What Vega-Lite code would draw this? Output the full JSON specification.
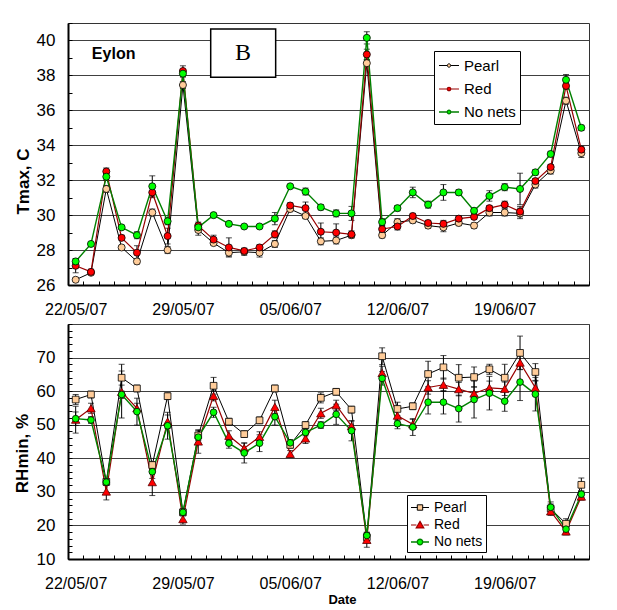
{
  "$schema": "https://vega.github.io/schema/vega-lite/v6.json",
  "autosize": {"type": "pad"},
  "padding": {"left": 12, "top": 22, "right": 0, "bottom": 0},
  "background": "white",
  "bounds": "flush",
  "spacing": 39,
  "config": {
    "font": "Liberation Sans",
    "view": {"stroke": "#333333", "strokeWidth": 1},
    "axis": {"labelColor": "black", "titleColor": "black", "domainColor": "black", "domainWidth": 2, "tickColor": "black", "tickWidth": 1, "gridColor": "#404040", "gridWidth": 1, "labelFont": "Liberation Sans", "titleFont": "Liberation Sans"},
    "legend": {"labelFont": "Liberation Sans", "labelColor": "black", "strokeColor": "black", "fillColor": "white", "cornerRadius": 0}
  },
  "datasets": {
    "tmax": [
      {"d":"2007-05-22","s":"Pearl","v":26.3,"e":0.1},{"d":"2007-05-22","s":"Red","v":27.1,"e":0.4},{"d":"2007-05-22","s":"No nets","v":27.35,"e":0.15},
      {"d":"2007-05-23","s":"Pearl","v":26.7,"e":0.1},{"d":"2007-05-23","s":"Red","v":26.75,"e":0.15},{"d":"2007-05-23","s":"No nets","v":28.35,"e":0.1},
      {"d":"2007-05-24","s":"Pearl","v":31.5,"e":0.2},{"d":"2007-05-24","s":"Red","v":32.5,"e":0.2},{"d":"2007-05-24","s":"No nets","v":32.2,"e":0.2},
      {"d":"2007-05-25","s":"Pearl","v":28.15,"e":0.1},{"d":"2007-05-25","s":"Red","v":28.7,"e":0.15},{"d":"2007-05-25","s":"No nets","v":29.3,"e":0.1},
      {"d":"2007-05-26","s":"Pearl","v":27.35,"e":0.15},{"d":"2007-05-26","s":"Red","v":27.85,"e":0.4},{"d":"2007-05-26","s":"No nets","v":28.85,"e":0.2},
      {"d":"2007-05-27","s":"Pearl","v":30.15,"e":0.2},{"d":"2007-05-27","s":"Red","v":31.3,"e":0.3},{"d":"2007-05-27","s":"No nets","v":31.65,"e":0.6},
      {"d":"2007-05-28","s":"Pearl","v":28.0,"e":0.2},{"d":"2007-05-28","s":"Red","v":28.8,"e":0.45},{"d":"2007-05-28","s":"No nets","v":29.65,"e":0.2},
      {"d":"2007-05-29","s":"Pearl","v":37.45,"e":0.2},{"d":"2007-05-29","s":"Red","v":38.25,"e":0.3},{"d":"2007-05-29","s":"No nets","v":38.1,"e":0.2},
      {"d":"2007-05-30","s":"Pearl","v":29.15,"e":0.3},{"d":"2007-05-30","s":"Red","v":29.4,"e":0.2},{"d":"2007-05-30","s":"No nets","v":29.3,"e":0.15},
      {"d":"2007-05-31","s":"Pearl","v":28.4,"e":0.1},{"d":"2007-05-31","s":"Red","v":28.6,"e":0.25},{"d":"2007-05-31","s":"No nets","v":30.0,"e":0.1},
      {"d":"2007-06-01","s":"Pearl","v":27.85,"e":0.2},{"d":"2007-06-01","s":"Red","v":28.15,"e":0.55},{"d":"2007-06-01","s":"No nets","v":29.5,"e":0.1},
      {"d":"2007-06-02","s":"Pearl","v":27.9,"e":0.2},{"d":"2007-06-02","s":"Red","v":27.95,"e":0.15},{"d":"2007-06-02","s":"No nets","v":29.35,"e":0.1},
      {"d":"2007-06-03","s":"Pearl","v":27.85,"e":0.25},{"d":"2007-06-03","s":"Red","v":28.15,"e":0.15},{"d":"2007-06-03","s":"No nets","v":29.35,"e":0.1},
      {"d":"2007-06-04","s":"Pearl","v":28.35,"e":0.2},{"d":"2007-06-04","s":"Red","v":28.9,"e":0.2},{"d":"2007-06-04","s":"No nets","v":29.8,"e":0.35},
      {"d":"2007-06-05","s":"Pearl","v":30.35,"e":0.15},{"d":"2007-06-05","s":"Red","v":30.55,"e":0.15},{"d":"2007-06-05","s":"No nets","v":31.65,"e":0.1},
      {"d":"2007-06-06","s":"Pearl","v":29.95,"e":0.15},{"d":"2007-06-06","s":"Red","v":30.4,"e":0.35},{"d":"2007-06-06","s":"No nets","v":31.35,"e":0.2},
      {"d":"2007-06-07","s":"Pearl","v":28.5,"e":0.2},{"d":"2007-06-07","s":"Red","v":29.05,"e":0.5},{"d":"2007-06-07","s":"No nets","v":30.45,"e":0.15},
      {"d":"2007-06-08","s":"Pearl","v":28.55,"e":0.2},{"d":"2007-06-08","s":"Red","v":29.0,"e":0.5},{"d":"2007-06-08","s":"No nets","v":30.1,"e":0.2},
      {"d":"2007-06-09","s":"Pearl","v":28.85,"e":0.15},{"d":"2007-06-09","s":"Red","v":28.9,"e":0.2},{"d":"2007-06-09","s":"No nets","v":30.1,"e":0.4},
      {"d":"2007-06-10","s":"Pearl","v":38.7,"e":0.2},{"d":"2007-06-10","s":"Red","v":39.2,"e":0.3},{"d":"2007-06-10","s":"No nets","v":40.15,"e":0.35},
      {"d":"2007-06-11","s":"Pearl","v":28.85,"e":0.15},{"d":"2007-06-11","s":"Red","v":29.2,"e":0.2},{"d":"2007-06-11","s":"No nets","v":29.6,"e":0.2},
      {"d":"2007-06-12","s":"Pearl","v":29.6,"e":0.2},{"d":"2007-06-12","s":"Red","v":29.35,"e":0.2},{"d":"2007-06-12","s":"No nets","v":30.4,"e":0.15},
      {"d":"2007-06-13","s":"Pearl","v":29.7,"e":0.15},{"d":"2007-06-13","s":"Red","v":29.95,"e":0.15},{"d":"2007-06-13","s":"No nets","v":31.3,"e":0.3},
      {"d":"2007-06-14","s":"Pearl","v":29.4,"e":0.15},{"d":"2007-06-14","s":"Red","v":29.55,"e":0.15},{"d":"2007-06-14","s":"No nets","v":30.6,"e":0.2},
      {"d":"2007-06-15","s":"Pearl","v":29.3,"e":0.25},{"d":"2007-06-15","s":"Red","v":29.5,"e":0.2},{"d":"2007-06-15","s":"No nets","v":31.3,"e":0.45},
      {"d":"2007-06-16","s":"Pearl","v":29.55,"e":0.15},{"d":"2007-06-16","s":"Red","v":29.8,"e":0.15},{"d":"2007-06-16","s":"No nets","v":31.3,"e":0.15},
      {"d":"2007-06-17","s":"Pearl","v":29.4,"e":0.15},{"d":"2007-06-17","s":"Red","v":29.9,"e":0.15},{"d":"2007-06-17","s":"No nets","v":30.25,"e":0.15},
      {"d":"2007-06-18","s":"Pearl","v":30.15,"e":0.2},{"d":"2007-06-18","s":"Red","v":30.4,"e":0.15},{"d":"2007-06-18","s":"No nets","v":31.1,"e":0.3},
      {"d":"2007-06-19","s":"Pearl","v":30.15,"e":0.2},{"d":"2007-06-19","s":"Red","v":30.6,"e":0.2},{"d":"2007-06-19","s":"No nets","v":31.6,"e":0.2},
      {"d":"2007-06-20","s":"Pearl","v":30.1,"e":0.3},{"d":"2007-06-20","s":"Red","v":30.2,"e":0.3},{"d":"2007-06-20","s":"No nets","v":31.5,"e":0.9},
      {"d":"2007-06-21","s":"Pearl","v":31.75,"e":0.2},{"d":"2007-06-21","s":"Red","v":31.95,"e":0.15},{"d":"2007-06-21","s":"No nets","v":32.45,"e":0.15},
      {"d":"2007-06-22","s":"Pearl","v":32.55,"e":0.2},{"d":"2007-06-22","s":"Red","v":32.75,"e":0.15},{"d":"2007-06-22","s":"No nets","v":33.5,"e":0.15},
      {"d":"2007-06-23","s":"Pearl","v":36.55,"e":0.2},{"d":"2007-06-23","s":"Red","v":37.4,"e":0.2},{"d":"2007-06-23","s":"No nets","v":37.75,"e":0.3},
      {"d":"2007-06-24","s":"Pearl","v":33.55,"e":0.25},{"d":"2007-06-24","s":"Red","v":33.75,"e":0.2},{"d":"2007-06-24","s":"No nets","v":35.0,"e":0.15}
    ],
    "rh": [
      {"d":"2007-05-22","s":"Pearl","v":57.5,"e":1.5},{"d":"2007-05-22","s":"Red","v":51.5,"e":4},{"d":"2007-05-22","s":"No nets","v":51.8,"e":2},
      {"d":"2007-05-23","s":"Pearl","v":59.0,"e":1},{"d":"2007-05-23","s":"Red","v":54.9,"e":1.5},{"d":"2007-05-23","s":"No nets","v":51.4,"e":1},
      {"d":"2007-05-24","s":"Pearl","v":33.0,"e":1},{"d":"2007-05-24","s":"Red","v":30.1,"e":2.5},{"d":"2007-05-24","s":"No nets","v":32.9,"e":1},
      {"d":"2007-05-25","s":"Pearl","v":64.0,"e":4},{"d":"2007-05-25","s":"Red","v":59.8,"e":2},{"d":"2007-05-25","s":"No nets","v":59.0,"e":7},
      {"d":"2007-05-26","s":"Pearl","v":60.8,"e":1},{"d":"2007-05-26","s":"Red","v":54.9,"e":1.5},{"d":"2007-05-26","s":"No nets","v":53.9,"e":4},
      {"d":"2007-05-27","s":"Pearl","v":38.0,"e":1},{"d":"2007-05-27","s":"Red","v":32.9,"e":4},{"d":"2007-05-27","s":"No nets","v":36.0,"e":2},
      {"d":"2007-05-28","s":"Pearl","v":58.5,"e":1},{"d":"2007-05-28","s":"Red","v":50.9,"e":2},{"d":"2007-05-28","s":"No nets","v":49.7,"e":4},
      {"d":"2007-05-29","s":"Pearl","v":23.9,"e":1},{"d":"2007-05-29","s":"Red","v":21.9,"e":1.5},{"d":"2007-05-29","s":"No nets","v":23.9,"e":1},
      {"d":"2007-05-30","s":"Pearl","v":46.8,"e":1.5},{"d":"2007-05-30","s":"Red","v":45.0,"e":3.5},{"d":"2007-05-30","s":"No nets","v":46.3,"e":1.5},
      {"d":"2007-05-31","s":"Pearl","v":61.6,"e":2.5},{"d":"2007-05-31","s":"Red","v":58.6,"e":1.5},{"d":"2007-05-31","s":"No nets","v":53.7,"e":1.5},
      {"d":"2007-06-01","s":"Pearl","v":50.9,"e":1},{"d":"2007-06-01","s":"Red","v":46.7,"e":1.5},{"d":"2007-06-01","s":"No nets","v":44.5,"e":1.5},
      {"d":"2007-06-02","s":"Pearl","v":47.2,"e":1},{"d":"2007-06-02","s":"Red","v":43.0,"e":1.5},{"d":"2007-06-02","s":"No nets","v":41.6,"e":3},
      {"d":"2007-06-03","s":"Pearl","v":51.3,"e":1},{"d":"2007-06-03","s":"Red","v":46.4,"e":1.5},{"d":"2007-06-03","s":"No nets","v":44.5,"e":2.5},
      {"d":"2007-06-04","s":"Pearl","v":60.8,"e":1},{"d":"2007-06-04","s":"Red","v":55.3,"e":2},{"d":"2007-06-04","s":"No nets","v":52.4,"e":2.5},
      {"d":"2007-06-05","s":"Pearl","v":44.0,"e":1},{"d":"2007-06-05","s":"Red","v":41.3,"e":1},{"d":"2007-06-05","s":"No nets","v":44.6,"e":1},
      {"d":"2007-06-06","s":"Pearl","v":49.9,"e":1},{"d":"2007-06-06","s":"Red","v":45.9,"e":1.5},{"d":"2007-06-06","s":"No nets","v":47.7,"e":1},
      {"d":"2007-06-07","s":"Pearl","v":58.0,"e":1.5},{"d":"2007-06-07","s":"Red","v":53.4,"e":1.5},{"d":"2007-06-07","s":"No nets","v":49.9,"e":1},
      {"d":"2007-06-08","s":"Pearl","v":59.8,"e":1},{"d":"2007-06-08","s":"Red","v":55.8,"e":1.5},{"d":"2007-06-08","s":"No nets","v":53.1,"e":3},
      {"d":"2007-06-09","s":"Pearl","v":54.5,"e":1},{"d":"2007-06-09","s":"Red","v":49.6,"e":1.5},{"d":"2007-06-09","s":"No nets","v":48.2,"e":3},
      {"d":"2007-06-10","s":"Pearl","v":16.5,"e":1},{"d":"2007-06-10","s":"Red","v":15.7,"e":2.2},{"d":"2007-06-10","s":"No nets","v":17.0,"e":1},
      {"d":"2007-06-11","s":"Pearl","v":70.4,"e":2.5},{"d":"2007-06-11","s":"Red","v":65.4,"e":2},{"d":"2007-06-11","s":"No nets","v":63.8,"e":2},
      {"d":"2007-06-12","s":"Pearl","v":54.7,"e":2},{"d":"2007-06-12","s":"Red","v":52.7,"e":1.5},{"d":"2007-06-12","s":"No nets","v":50.3,"e":1.5},
      {"d":"2007-06-13","s":"Pearl","v":55.5,"e":1},{"d":"2007-06-13","s":"Red","v":50.1,"e":1.5},{"d":"2007-06-13","s":"No nets","v":49.3,"e":2.5},
      {"d":"2007-06-14","s":"Pearl","v":65.1,"e":3.8},{"d":"2007-06-14","s":"Red","v":61.1,"e":2},{"d":"2007-06-14","s":"No nets","v":56.7,"e":3.5},
      {"d":"2007-06-15","s":"Pearl","v":67.1,"e":3.5},{"d":"2007-06-15","s":"Red","v":61.9,"e":2},{"d":"2007-06-15","s":"No nets","v":56.7,"e":3.5},
      {"d":"2007-06-16","s":"Pearl","v":64.0,"e":3.9},{"d":"2007-06-16","s":"Red","v":60.6,"e":2},{"d":"2007-06-16","s":"No nets","v":54.8,"e":4},
      {"d":"2007-06-17","s":"Pearl","v":64.2,"e":3},{"d":"2007-06-17","s":"Red","v":59.3,"e":2},{"d":"2007-06-17","s":"No nets","v":57.5,"e":5.5},
      {"d":"2007-06-18","s":"Pearl","v":66.5,"e":1.5},{"d":"2007-06-18","s":"Red","v":61.0,"e":2},{"d":"2007-06-18","s":"No nets","v":59.4,"e":5},
      {"d":"2007-06-19","s":"Pearl","v":64.0,"e":4},{"d":"2007-06-19","s":"Red","v":60.7,"e":2},{"d":"2007-06-19","s":"No nets","v":57.0,"e":3},
      {"d":"2007-06-20","s":"Pearl","v":71.4,"e":5},{"d":"2007-06-20","s":"Red","v":68.5,"e":2},{"d":"2007-06-20","s":"No nets","v":62.7,"e":5.5},
      {"d":"2007-06-21","s":"Pearl","v":65.7,"e":2.5},{"d":"2007-06-21","s":"Red","v":61.0,"e":2},{"d":"2007-06-21","s":"No nets","v":59.1,"e":5},
      {"d":"2007-06-22","s":"Pearl","v":25.0,"e":2},{"d":"2007-06-22","s":"Red","v":24.2,"e":1},{"d":"2007-06-22","s":"No nets","v":25.4,"e":1},
      {"d":"2007-06-23","s":"Pearl","v":20.5,"e":1.5},{"d":"2007-06-23","s":"Red","v":18.2,"e":1},{"d":"2007-06-23","s":"No nets","v":18.9,"e":1},
      {"d":"2007-06-24","s":"Pearl","v":32.1,"e":2},{"d":"2007-06-24","s":"Red","v":28.6,"e":1},{"d":"2007-06-24","s":"No nets","v":29.3,"e":1}
    ],
    "notes": [
      {"d":"2007-05-24T11:30:00Z","v":39.2,"t":"Eylon"}
    ],
    "panel": [
      {"d":"2007-05-30T19:30:00Z","d2":"2007-06-04T01:15:00Z","v":40.65,"v2":37.9,"c":"2007-06-01T22:00:00Z","m":39.28,"t":"B"}
    ]
  },
  "vconcat": [
    {
      "width": 521,
      "height": 262,
      "data": {"name": "tmax"},
      "encoding": {
        "x": {
          "field": "d", "type": "temporal",
          "scale": {"type": "utc", "nice": false, "domain": [{"year": 2007, "month": 5, "date": 21, "hours": 12, "utc": true}, {"year": 2007, "month": 6, "date": 24, "hours": 12, "utc": true}]},
          "axis": {"title": null, "grid": false, "tickCount": {"interval": "day", "step": 1}, "tickOffset": 7.662, "labelOffset": -7.662, "labelExpr": "(datum.value - utc(2007,4,22)) % 604800000 == 0 ? utcFormat(datum.value, '%d/%m/%y') : ''", "labelFlush": false, "labelOverlap": false, "tickSize": -4, "labelPadding": 20, "labelFontSize": 16}
        },
        "y": {
          "field": "v", "type": "quantitative",
          "scale": {"domain": [26, 41], "nice": false, "zero": false},
          "axis": {"title": "Tmax, C", "titleFontSize": 17, "titleFontWeight": "bold", "titleX": -40, "titleY": 158, "titleAngle": -90, "titleAlign": "center", "titleBaseline": "alphabetic", "values": [26,27,28,29,30,31,32,33,34,35,36,37,38,39,40,41], "labelExpr": "datum.value % 2 == 0 && datum.value <= 40 ? datum.label : ''", "grid": true, "gridOpacity": {"condition": {"test": "datum.value % 2 == 0", "value": 1}, "value": 0}, "tickSize": -4, "labelPadding": 17, "labelFontSize": 17}
        }
      },
      "layer": [
        {"mark": {"type": "errorbar", "color": "black", "ticks": {"size": 6, "color": "black"}}, "encoding": {"yError": {"field": "e"}}},
        {"mark": {"type": "line"}, "encoding": {
          "stroke": {"field": "s", "type": "nominal", "scale": {"domain": ["Pearl", "Red", "No nets"], "range": ["#000000", "#990000", "#008000"]},
            "legend": {"title": null, "orient": "none", "legendX": 366, "legendY": 28, "symbolType": "M-1,0H-0.17M0.17,0H1M-0.17,0A0.17,0.17,0,1,1,0.17,0A0.17,0.17,0,1,1,-0.17,0Z", "symbolSize": 400, "symbolStrokeWidth": 1.2, "labelFontSize": 15, "labelOffset": 4, "rowPadding": 4, "padding": 4,
              "encode": {"symbols": {"update": {"fill": {"signal": "datum.value === 'Pearl' ? '#FFCC99' : datum.value === 'Red' ? '#FF0000' : '#00FF00'"}, "opacity": {"value": 1}}}}}},
          "strokeWidth": {"field": "s", "type": "nominal", "scale": {"domain": ["Pearl", "Red", "No nets"], "range": [1, 1.4, 2.4]}, "legend": null}
        }},
        {"mark": {"type": "point", "filled": true, "size": 50, "stroke": "black", "strokeWidth": 0.8, "opacity": 1}, "encoding": {
          "fill": {"field": "s", "type": "nominal", "scale": {"domain": ["Pearl", "Red", "No nets"], "range": ["#FFCC99", "#FF0000", "#00FF00"]}, "legend": null}
        }},
        {"data": {"name": "panel"}, "mark": {"type": "rect", "fill": "white", "stroke": "black", "strokeWidth": 1.5}, "encoding": {
          "x2": {"field": "d2"},
          "y2": {"field": "v2"}
        }},
        {"data": {"name": "panel"}, "mark": {"type": "text", "font": "Liberation Serif", "fontSize": 24, "align": "center", "baseline": "middle", "color": "black"}, "encoding": {
          "x": {"field": "c", "type": "temporal"},
          "y": {"field": "m", "type": "quantitative"},
          "text": {"field": "t"}
        }},
        {"data": {"name": "notes"}, "mark": {"type": "text", "fontSize": 16, "fontWeight": "bold", "align": "center", "baseline": "middle", "color": "black"}, "encoding": {
          "text": {"field": "t"}
        }}
      ]
    },
    {
      "width": 521,
      "height": 235,
      "data": {"name": "rh"},
      "encoding": {
        "x": {
          "field": "d", "type": "temporal",
          "scale": {"type": "utc", "nice": false, "domain": [{"year": 2007, "month": 5, "date": 21, "hours": 12, "utc": true}, {"year": 2007, "month": 6, "date": 24, "hours": 12, "utc": true}]},
          "axis": {"title": "Date", "titleFontSize": 13, "titleFontWeight": "bold", "titleX": 274, "titleY": 44, "titleAlign": "center", "titleBaseline": "alphabetic", "grid": false, "tickCount": {"interval": "day", "step": 1}, "tickOffset": 7.662, "labelOffset": -7.662, "labelExpr": "(datum.value - utc(2007,4,22)) % 604800000 == 0 ? utcFormat(datum.value, '%d/%m/%y') : ''", "labelFlush": false, "labelOverlap": false, "tickSize": -4, "labelPadding": 20, "labelFontSize": 16}
        },
        "y": {
          "field": "v", "type": "quantitative",
          "scale": {"domain": [10, 80], "nice": false, "zero": false},
          "axis": {"title": "RHmin, %", "titleFontSize": 17, "titleFontWeight": "bold", "titleX": -41, "titleY": 129, "titleAngle": -90, "titleAlign": "center", "titleBaseline": "alphabetic", "values": [10,12,14,16,18,20,22,24,26,28,30,32,34,36,38,40,42,44,46,48,50,52,54,56,58,60,62,64,66,68,70,72,74,76,78,80], "labelExpr": "datum.value % 10 == 0 && datum.value < 80 ? datum.label : ''", "grid": true, "gridOpacity": {"condition": {"test": "datum.value % 10 == 0", "value": 1}, "value": 0}, "tickSize": -4, "labelPadding": 17, "labelFontSize": 17}
        }
      },
      "layer": [
        {"mark": {"type": "errorbar", "color": "black", "ticks": {"size": 6, "color": "black"}}, "encoding": {"yError": {"field": "e"}}},
        {"mark": {"type": "line"}, "encoding": {
          "stroke": {"field": "s", "type": "nominal", "scale": {"domain": ["Pearl", "Red", "No nets"], "range": ["#000000", "#990000", "#008000"]},
            "legend": {"title": null, "orient": "none", "legendX": 339, "legendY": 171, "symbolType": "M-1,0H-0.3M0.3,0H1", "symbolSize": 324, "symbolStrokeWidth": 1.2, "labelFontSize": 14, "labelOffset": 4, "rowPadding": 0, "padding": 3,
              "encode": {"symbols": {"update": {
                "fill": {"signal": "datum.value === 'Pearl' ? '#FFCC99' : datum.value === 'Red' ? '#FF0000' : '#00FF00'"},
                "shape": {"signal": "datum.value === 'Pearl' ? 'M-1,0H-0.3M0.3,0H1M-0.3,-0.3H0.3V0.3H-0.3Z' : datum.value === 'Red' ? 'M-1,0H-0.4M0.4,0H1M0,-0.4L0.42,0.32H-0.42Z' : 'M-1,0H-0.3M0.3,0H1M-0.3,0A0.3,0.3,0,1,1,0.3,0A0.3,0.3,0,1,1,-0.3,0Z'"},
                "opacity": {"value": 1}}}}}},
          "strokeWidth": {"field": "s", "type": "nominal", "scale": {"domain": ["Pearl", "Red", "No nets"], "range": [1, 1.4, 2.4]}, "legend": null}
        }},
        {"transform": [{"filter": {"field": "s", "equal": "Pearl"}}], "mark": {"type": "point", "shape": "square", "filled": true, "fill": "#FFCC99", "stroke": "black", "strokeWidth": 0.8, "size": 45, "opacity": 1}},
        {"transform": [{"filter": {"field": "s", "equal": "Red"}}], "mark": {"type": "point", "shape": "triangle-up", "filled": true, "fill": "#FF0000", "stroke": "#550000", "strokeWidth": 0.8, "size": 70, "opacity": 1}},
        {"transform": [{"filter": {"field": "s", "equal": "No nets"}}], "mark": {"type": "point", "shape": "circle", "filled": true, "fill": "#00FF00", "stroke": "black", "strokeWidth": 0.8, "size": 45, "opacity": 1}}
      ]
    }
  ],
  "resolve": {
    "scale": {"stroke": "independent", "fill": "independent", "strokeWidth": "independent"},
    "legend": {"stroke": "independent", "fill": "independent", "strokeWidth": "independent"}
  }
}
